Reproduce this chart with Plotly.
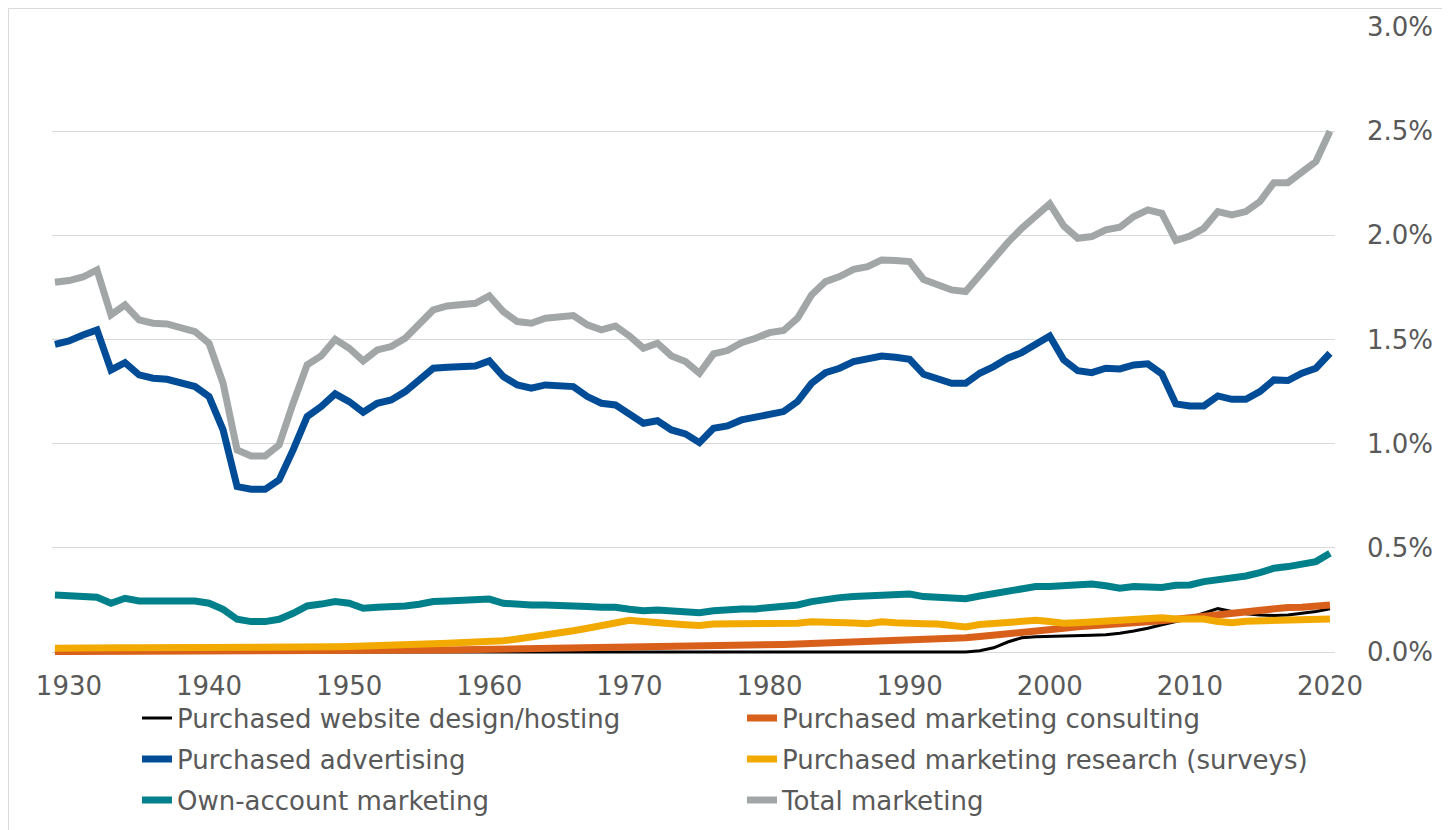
import plotly.graph_objects as go

years = list(range(1929, 2021))

website = [0.0] * 66 + [
    0.006, 0.020, 0.048, 0.068, 0.073, 0.074, 0.075, 0.078, 0.080, 0.083,
    0.090, 0.101, 0.114, 0.131, 0.146, 0.165, 0.186, 0.208, 0.194, 0.183,
    0.178, 0.175, 0.178, 0.186, 0.194, 0.208]

consulting = [0.002] * 17 + [
    0.003, 0.004, 0.004, 0.005, 0.005, 0.006, 0.007, 0.007, 0.008, 0.009,
    0.010, 0.010, 0.011, 0.012, 0.013, 0.014, 0.014, 0.015, 0.016, 0.017,
    0.018, 0.019, 0.019, 0.020, 0.020, 0.021, 0.021, 0.021, 0.021, 0.022,
    0.023, 0.025, 0.028, 0.031, 0.034, 0.036, 0.038, 0.040, 0.042, 0.044,
    0.046, 0.048, 0.050, 0.052, 0.054, 0.056, 0.059, 0.063, 0.068, 0.074,
    0.082, 0.090, 0.097, 0.102, 0.109, 0.114, 0.121, 0.125, 0.128, 0.131,
    0.138, 0.145, 0.150, 0.157, 0.165, 0.173, 0.181, 0.189, 0.196, 0.202,
    0.209, 0.214, 0.215, 0.218, 0.226]

advertising = [
    1.477, 1.493, 1.522, 1.546, 1.354, 1.389, 1.330, 1.314, 1.309, 1.293,
    1.274, 1.226, 1.066, 0.794, 0.781, 0.781, 0.826, 0.970, 1.130, 1.178,
    1.239, 1.202, 1.151, 1.194, 1.210, 1.250, 1.306, 1.362, 1.367, 1.370,
    1.373, 1.397, 1.322, 1.282, 1.266, 1.282, 1.277, 1.274, 1.226, 1.194,
    1.186, 1.138, 1.098, 1.110, 1.066, 1.047, 1.005, 1.074, 1.085, 1.114,
    1.130, 1.146, 1.154, 1.202, 1.290, 1.341, 1.362, 1.394, 1.405, 1.421,
    1.415, 1.405, 1.333, 1.312, 1.290, 1.290, 1.338, 1.370, 1.410, 1.437,
    1.474, 1.517, 1.402, 1.350, 1.341, 1.362, 1.359, 1.378, 1.383, 1.335,
    1.191, 1.181, 1.181, 1.229, 1.213, 1.213, 1.250, 1.306, 1.303, 1.338,
    1.362, 1.434]

research = [
    0.018, 0.020, 0.022, 0.022, 0.020, 0.020, 0.020, 0.020, 0.022, 0.020,
    0.020, 0.020, 0.019, 0.018, 0.018, 0.017, 0.017, 0.018, 0.020, 0.022,
    0.025, 0.026, 0.027, 0.029, 0.031, 0.033, 0.036, 0.040, 0.042, 0.043,
    0.045, 0.048, 0.054, 0.062, 0.070, 0.078, 0.090, 0.102, 0.114, 0.126,
    0.142, 0.152, 0.146, 0.144, 0.136, 0.131, 0.127, 0.134, 0.135, 0.135,
    0.135, 0.135, 0.134, 0.138, 0.145, 0.145, 0.143, 0.139, 0.136, 0.145,
    0.141, 0.142, 0.136, 0.134, 0.126, 0.120, 0.132, 0.138, 0.145, 0.152,
    0.152, 0.146, 0.138, 0.141, 0.145, 0.148, 0.148, 0.153, 0.158, 0.164,
    0.158, 0.157, 0.158, 0.146, 0.141, 0.148, 0.149, 0.156, 0.150, 0.150,
    0.156, 0.158]

own_account = [
    0.274, 0.269, 0.267, 0.263, 0.234, 0.258, 0.245, 0.245, 0.245, 0.248,
    0.245, 0.234, 0.205, 0.157, 0.146, 0.146, 0.157, 0.186, 0.221, 0.230,
    0.242, 0.234, 0.210, 0.215, 0.215, 0.221, 0.229, 0.242, 0.245, 0.250,
    0.250, 0.254, 0.234, 0.226, 0.226, 0.226, 0.226, 0.226, 0.218, 0.215,
    0.215, 0.205, 0.198, 0.202, 0.197, 0.192, 0.189, 0.198, 0.198, 0.206,
    0.207, 0.211, 0.215, 0.226, 0.242, 0.254, 0.261, 0.266, 0.269, 0.274,
    0.274, 0.278, 0.266, 0.261, 0.256, 0.256, 0.269, 0.282, 0.293, 0.302,
    0.314, 0.314, 0.318, 0.317, 0.326, 0.318, 0.306, 0.314, 0.310, 0.310,
    0.320, 0.322, 0.338, 0.346, 0.354, 0.365, 0.381, 0.402, 0.410, 0.426,
    0.434, 0.474]

total = [
    1.775, 1.783, 1.800, 1.834, 1.618, 1.666, 1.594, 1.578, 1.575, 1.559,
    1.538, 1.482, 1.290, 0.970, 0.941, 0.941, 0.994, 1.194, 1.378, 1.421,
    1.501, 1.458, 1.397, 1.450, 1.466, 1.506, 1.570, 1.642, 1.661, 1.669,
    1.674, 1.709, 1.634, 1.586, 1.578, 1.602, 1.610, 1.615, 1.570, 1.546,
    1.565, 1.517, 1.458, 1.482, 1.421, 1.394, 1.338, 1.431, 1.447, 1.485,
    1.506, 1.533, 1.543, 1.602, 1.714, 1.778, 1.802, 1.837, 1.850, 1.882,
    1.879, 1.874, 1.788, 1.764, 1.738, 1.730, 1.810, 1.882, 1.965, 2.034,
    2.098, 2.151, 2.045, 1.986, 1.994, 2.026, 2.039, 2.090, 2.122, 2.106,
    1.975, 1.997, 2.034, 2.114, 2.098, 2.114, 2.162, 2.253, 2.253, 2.306,
    2.354, 2.500]

x_ticks = [1930, 1940, 1950, 1960, 1970, 1980, 1990, 2000, 2010, 2020]

series = [
    ("Purchased website design/hosting", website, "#000000", 3, "legend"),
    ("Purchased marketing consulting", consulting, "#D9601A", 7, "legend"),
    ("Purchased advertising", advertising, "#004C97", 7, "legend2"),
    ("Purchased marketing research (surveys)", research, "#F2AA00", 7, "legend2"),
    ("Own-account marketing", own_account, "#00808A", 7, "legend3"),
    ("Total marketing", total, "#A3A6A7", 7, "legend3"),
]

FONT = "DejaVu Sans"
TXT = "#595959"

fig = go.Figure()
for name, vals, color, w, lg in series:
    fig.add_trace(go.Scatter(
        x=years, y=vals, name=name, mode="lines",
        line=dict(color=color, width=w), legend=lg))

# page shows the figure offset by the default 8px body margin
W, H = 1442, 822
L, R, T, B = 44, 115, 19, 175
PW, PH = W - L - R, H - T - B

def leg(py):
    return dict(orientation="h", x=129 / W, xanchor="left", xref="container",
                y=1 - py / H, yanchor="middle", yref="container",
                entrywidth=560, entrywidthmode="pixels",
                font=dict(family=FONT, size=26, color=TXT),
                bgcolor="rgba(0,0,0,0)", borderwidth=0)

fig.update_layout(
    width=W, height=H,
    margin=dict(l=L, r=R, t=T, b=B, autoexpand=False),
    paper_bgcolor="white", plot_bgcolor="white",
    font=dict(family=FONT, size=26, color=TXT),
    showlegend=True,
    legend=leg(710), legend2=leg(751), legend3=leg(792),
    xaxis=dict(range=[1928.79, 2020.36], tickvals=x_ticks,
               ticktext=[str(v) for v in x_ticks],
               showgrid=False, zeroline=False, showline=False,
               ticks="", ticklabelstandoff=13,
               tickfont=dict(family=FONT, size=26, color=TXT)),
    yaxis=dict(range=[-0.0144, 3.0], side="right", dtick=0.5, tick0=0,
               tickformat=".1f", ticksuffix="%",
               showgrid=True, gridcolor="#D9D9D9", gridwidth=1,
               zeroline=False, showline=False, ticks="",
               ticklabelstandoff=31,
               tickfont=dict(family=FONT, size=26, color=TXT)),
    shapes=[dict(type="rect", xref="paper", yref="paper",
                 x0=(0.5 - L) / PW, x1=(W + 5 - L) / PW,
                 y0=-(B + 5) / PH, y1=(PH + T - 0.5) / PH,
                 line=dict(color="#D9D9D9", width=1), layer="below")],
)

fig.write_html("out.html")
